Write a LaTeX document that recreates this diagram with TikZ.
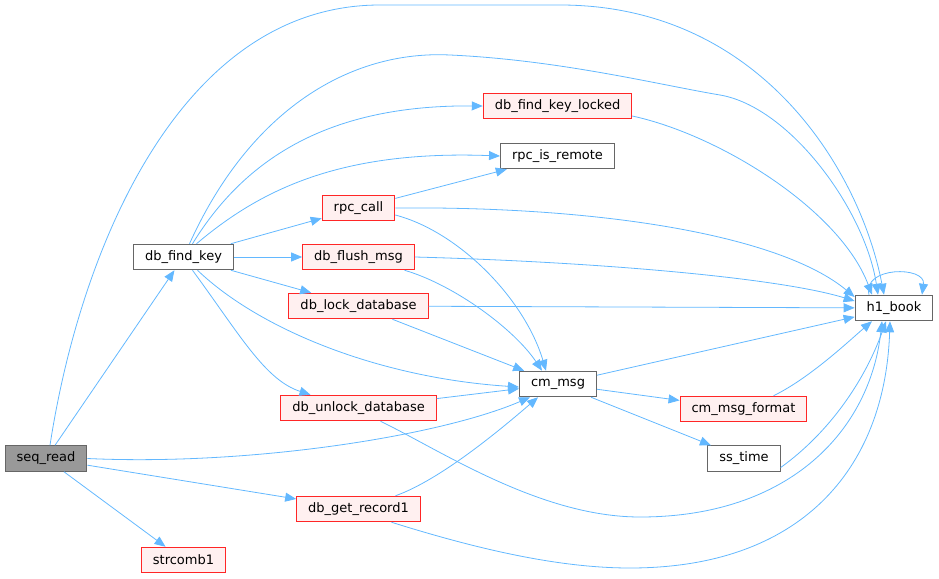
\documentclass[tikz,border=0pt]{standalone}
\usepackage{fontspec}
\setmainfont{DejaVu Sans}
\usetikzlibrary{arrows.meta}
\definecolor{edgeblue}{HTML}{63B8FF}
\definecolor{boxgray}{HTML}{666666}
\definecolor{rootgray}{HTML}{999999}
\definecolor{hotfill}{HTML}{FFF0F0}
\tikzset{
  fn/.style={draw=boxgray, fill=white, line width=1pt, minimum height=25.5pt,
    inner xsep=11.5pt, inner ysep=1pt, font=\fontsize{13}{15}\selectfont},
  hot/.style={fn, draw=red!85!white, fill=hotfill},
  root/.style={fn, fill=rootgray},
  call/.style={draw=edgeblue, line width=0.8pt, -{Triangle[length=11pt,width=9pt]}}
}
\begin{document}
\begin{tikzpicture}[x=1pt,y=-1pt]
        \useasboundingbox (0,0) rectangle (939,578);

        \node[root] (seq_read) at (46,458.5) {seq\_read};
        \node[fn] (db_find_key) at (183.5,257) {db\_find\_key};
        \node[hot] (strcomb1) at (183.5,560) {strcomb1};
        \node[hot] (rpc_call) at (358.5,208) {rpc\_call};
        \node[hot] (db_flush_msg) at (358.5,257) {db\_flush\_msg};
        \node[hot] (db_lock_database) at (358.5,306) {db\_lock\_database};
        \node[hot] (db_unlock_database) at (358.5,408) {db\_unlock\_database};
        \node[hot] (db_get_record1) at (358.5,509) {db\_get\_record1};
        \node[hot] (db_find_key_locked) at (557.5,106) {db\_find\_key\_locked};
        \node[fn] (rpc_is_remote) at (557.5,156) {rpc\_is\_remote};
        \node[fn] (cm_msg) at (558,384) {cm\_msg};
        \node[hot] (cm_msg_format) at (743.5,409) {cm\_msg\_format};
        \node[fn] (ss_time) at (744,458.5) {ss\_time};
        \node[fn] (h1_book) at (894,308) {h1\_book};

        % seq_read
        \draw[call] ([xshift=4pt]seq_read.north) .. controls (80,250) and (180,5) .. (380,5)
          -- (560,5) .. controls (760,5) and (860,170) .. ([xshift=-10pt]h1_book.north);
        \draw[call] (seq_read) -- (db_find_key);
        \draw[call] (seq_read.east) .. controls (250,466) and (440,436) .. ([xshift=-28pt]cm_msg.south);
        \draw[call] (seq_read) -- (db_get_record1);
        \draw[call] (seq_read) -- (strcomb1);

        % db_find_key
        \draw[call] ([xshift=6pt]db_find_key.north) .. controls (250,110) and (350,50) .. (450,55)
          .. controls (560,60) and (660,85) .. (720,95) .. controls (790,107) and (865,210) .. ([xshift=-16pt]h1_book.north);
        \draw[call] ([xshift=9pt]db_find_key.north) .. controls (250,150) and (340,105) .. (db_find_key_locked.west);
        \draw[call] ([xshift=13pt]db_find_key.north) .. controls (260,190) and (340,150) .. (rpc_is_remote.west);
        \draw[call] (db_find_key) -- (rpc_call);
        \draw[call] (db_find_key) -- (db_flush_msg);
        \draw[call] (db_find_key) -- (db_lock_database);
        \draw[call] ([xshift=14pt]db_find_key.south) .. controls (260,330) and (380,378) .. ([yshift=-3pt]cm_msg.west);
        \draw[call] ([xshift=9pt]db_find_key.south) .. controls (240,335) and (265,380) .. ([xshift=-48pt]db_unlock_database.north);

        % second column
        \draw[call] ([yshift=-10pt]db_find_key_locked.east) .. controls (720,135) and (840,210) .. ([xshift=-22pt]h1_book.north);
        \draw[call] (rpc_call) -- (rpc_is_remote);
        \draw[call] (rpc_call.east) .. controls (600,206) and (780,235) .. ([yshift=11pt]h1_book.west);
        \draw[call] ([yshift=-7pt]rpc_call.east) .. controls (460,232) and (525,300) .. ([xshift=-12pt]cm_msg.north);
        \draw[call] (db_flush_msg.east) .. controls (600,262) and (780,278) .. ([yshift=7pt]h1_book.west);
        \draw[call] ([xshift=46pt]db_flush_msg.south) .. controls (455,285) and (515,330) .. ([xshift=-16pt]cm_msg.north);
        \draw[call] (db_lock_database) -- (h1_book);
        \draw[call] (db_lock_database) -- (cm_msg);
        \draw[call] (db_unlock_database) -- (cm_msg);
        \draw[call] ([xshift=22pt]db_unlock_database.south) .. controls (440,450) and (540,517) .. (640,517)
          .. controls (790,517) and (870,430) .. ([xshift=-12pt]h1_book.south);
        \draw[call] ([xshift=37pt]db_get_record1.north) .. controls (440,480) and (500,430) .. ([xshift=-20pt]cm_msg.south);
        \draw[call] ([xshift=33pt]db_get_record1.south) .. controls (480,550) and (560,568) .. (630,568)
          .. controls (800,568) and (885,470) .. ([xshift=-4pt]h1_book.south);

        % cm_msg and the rest
        \draw[call] (cm_msg) -- (h1_book);
        \draw[call] (cm_msg) -- (cm_msg_format);
        \draw[call] (cm_msg) -- (ss_time);
        \draw[call] ([xshift=30pt]cm_msg_format.north) .. controls (810,378) and (850,340) .. ([xshift=-22pt]h1_book.south);
        \draw[call] ([yshift=-9pt]ss_time.east) .. controls (830,432) and (865,380) .. ([xshift=-8pt]h1_book.south);
        \draw[call] ([xshift=-25pt]h1_book.north) .. controls (862,266) and (926,266) .. ([xshift=28pt]h1_book.north);
\end{tikzpicture}
\end{document}
